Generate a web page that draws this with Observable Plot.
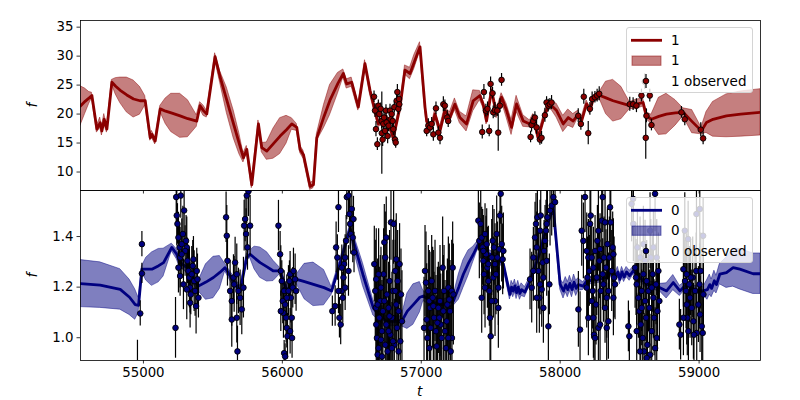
<!DOCTYPE html>
<html><head><meta charset="utf-8">
<script src="https://cdn.jsdelivr.net/npm/d3@7"></script>
<script src="https://cdn.jsdelivr.net/npm/@observablehq/plot@0.6"></script>
<style>
body{margin:0;background:#fff;font-family:"DejaVu Sans",sans-serif;}
#wrap{position:relative;width:800px;height:400px;overflow:hidden;background:#fff;}
#top,#bot{position:absolute;left:0;}
#top{top:0;z-index:2;}
#bot{top:190px;z-index:1;}
.lbl{position:absolute;font-family:"DejaVu Sans";font-style:italic;font-size:13.5px;color:#000;line-height:14px;height:14px;}
.legend{position:absolute;left:626px;width:125px;height:64px;border:1px solid #d4d4d4;border-radius:3px;background:rgba(255,255,255,0.8);z-index:5;}
.legend span{position:absolute;left:44px;font-size:13.5px;line-height:16px;color:#000;white-space:nowrap;}
</style></head>
<body><div id="wrap">
<div id="top"></div><div id="bot"></div>
<div class="lbl" style="left:30px;top:98px;transform:rotate(-90deg);">f</div>
<div class="lbl" style="left:30px;top:268px;transform:rotate(-90deg);">f</div>
<div class="lbl" style="left:417px;top:384px;">t</div>
<div class="legend" style="top:27px">
 <svg width="125" height="64" style="position:absolute;left:0;top:0">
  <line x1="4" x2="35" y1="12.3" y2="12.3" stroke="#8b0000" stroke-width="2.8"/>
  <rect x="5" y="28" width="29" height="9.3" fill="#8b0000" fill-opacity="0.5" stroke="#8b0000" stroke-opacity="0.5"/>
  <line x1="19" x2="19" y1="46" y2="60" stroke="black" stroke-width="1.2"/>
  <circle cx="19" cy="53" r="2.8" fill="#8b0000" stroke="black" stroke-width="0.9"/>
 </svg>
 <span style="top:4px">1</span><span style="top:24px">1</span><span style="top:45px">1 observed</span>
</div>
<div class="legend" style="top:197px">
 <svg width="125" height="64" style="position:absolute;left:0;top:0">
  <line x1="4" x2="35" y1="12.3" y2="12.3" stroke="#000080" stroke-width="2.8"/>
  <rect x="5" y="28" width="29" height="9.3" fill="#000080" fill-opacity="0.5" stroke="#000080" stroke-opacity="0.5"/>
  <line x1="19" x2="19" y1="46" y2="60" stroke="black" stroke-width="1.2"/>
  <circle cx="19" cy="53" r="2.8" fill="#000080" stroke="black" stroke-width="0.9"/>
 </svg>
 <span style="top:4px">0</span><span style="top:24px">0</span><span style="top:45px">0 observed</span>
</div>
</div>
<script>
// ---------- axes ----------
const xDomain = [54547, 59442];
const xTicks = [55000, 56000, 57000, 58000, 59000];
const topYDomain = [6.81, 36.15];
const topYTicks = [10, 15, 20, 25, 30, 35];
const botYDomain = [0.91, 1.582];
const botYTicks = [1.0, 1.2, 1.4];

// ---------- series "1" (top): GP mean and band half-width ----------
const topT = [54547,54580,54610,54629,54665,54689,54701,54718,54737,54773,54800,54833,54880,54929,54975,55013,55049,55061,55085,55121,55160,55200,55264,55320,55384,55408,55432,55456,55516,55552,55600,55650,55690,55720,55744,55780,55828,55852,55888,55936,55984,56030,56068,56104,56128,56152,56200,56224,56248,56300,56343,56400,56439,56463,56499,56547,56595,56631,56691,56751,56799,56847,56883,56919,56950,56991,57027,57039,57063,57075,57099,57135,57170,57206,57242,57278,57326,57374,57422,57446,57470,57506,57542,57578,57614,57650,57686,57734,57782,57806,57842,57890,57926,57974,58022,58058,58094,58130,58154,58190,58214,58238,58286,58330,58381,58440,58501,58550,58597,58621,58657,58710,58765,58830,58885,58950,59017,59053,59100,59197,59300,59442];
const topMean = [21.4,22.2,22.8,23.2,17.4,18.5,17.1,19.1,17.4,25.5,24.8,24.1,23.3,22.6,22.3,22.3,15.9,16.5,15.35,20.9,20.5,20.2,19.7,19.2,18.8,21.45,20.6,20.0,29.9,26.4,22.4,18.2,14.9,12.45,13.9,7.8,18.3,14.2,13.6,14.9,16.2,17.3,18.3,17.7,13.9,13.0,7.5,7.8,15.9,19.6,22.4,25.3,27.0,25.2,25.5,21.2,28.7,24.1,18.3,19.4,15.9,21.2,27.6,27.0,29.0,31.6,21.2,18.8,17.7,17.7,20.0,17.1,20.6,19.4,21.7,19.4,18.3,22.3,23.2,21.7,18.8,24.1,20.0,22.9,20.6,17.7,21.75,18.8,18.3,19.4,15.9,20.0,21.75,20.6,18.3,19.4,18.8,20.0,18.8,21.75,20.6,22.6,23.2,22.8,22.3,21.9,21.45,21.7,22.0,19.7,19.1,19.6,20.0,20.2,20.3,18.7,17.1,18.55,19.1,19.7,20.0,20.3];
const topHalf = [3.4,2.2,1.0,0.5,0.6,0.9,0.8,0.9,0.6,0.4,1.4,2.2,3.0,3.2,2.4,0.8,0.5,0.6,0.6,0.5,2.2,3.3,3.8,3.2,1.0,0.6,0.9,0.6,0.6,1.0,2.2,2.4,1.8,0.8,0.6,0.6,0.6,0.8,1.5,2.6,3.1,2.4,1.0,0.6,0.6,0.7,0.6,0.6,0.6,2.0,2.6,1.8,0.7,0.8,0.8,0.6,0.6,0.7,0.6,0.6,0.6,0.6,0.8,1.0,1.2,0.8,0.6,0.5,0.5,0.6,0.7,0.7,0.6,0.9,1.0,1.0,1.3,1.8,0.8,0.6,0.6,0.6,0.7,0.7,1.2,1.3,1.4,1.0,0.6,0.6,0.6,0.6,0.6,1.2,1.4,1.4,1.2,0.6,0.6,0.6,0.6,0.6,0.7,2.8,3.6,2.8,0.6,0.8,0.7,0.6,0.8,3.2,3.5,2.2,0.7,2.0,0.6,1.8,3.0,3.7,3.9,4.0];

// ---------- series "1" observed ----------
const topObsT = [56660,56667,56674,56684,56691,56698,56708,56715,56716,56722,56727,56732,56739,56746,56751,56758,56765,56775,56780,56787,56794,56799,56806,56811,56816,56823,56828,56835,56840,56842,
57039,57051,57063,57075,57087,57106,57123,57135,57159,57170,57187,57194,
57439,57451,57465,57477,57489,57499,57513,57518,57530,57547,57554,57566,57578,
57787,57794,57806,57818,57830,57854,57866,57890,57902,57914,57926,57938,
58130,58149,58170,58202,58214,58230,58250,58266,58281,
58501,58525,58549,58585,58609,58616,58621,58645,58657,
58873,58897,59012,59029];
const topObsF = [23.0,20.6,17.4,14.8,21.45,20.0,20.9,18.8,16.7,15.6,18.3,19.4,17.1,20.6,18.55,16.2,18.0,20.6,19.1,20.0,18.8,17.4,21.2,15.6,15.1,22.3,23.8,20.9,22.6,21.7,
17.1,18.0,17.7,18.3,16.5,21.0,16.8,15.9,21.7,21.45,19.4,18.8,
16.9,23.8,20.6,20.9,17.1,25.2,23.6,20.3,20.7,20.6,16.8,21.45,25.9,
16.05,18.1,18.8,19.4,17.7,15.6,15.9,19.8,22.0,21.45,21.7,22.0,
19.7,18.3,23.0,16.7,20.9,22.6,22.9,23.2,23.5,
21.7,21.7,21.45,23.2,25.6,15.9,19.7,23.2,18.1,
20.3,19.1,17.3,15.8];
const topObsE = [1.0,1.2,1.3,1.1,1.0,1.2,1.0,1.3,7.1,1.2,1.0,1.1,1.4,1.0,1.2,1.3,1.0,1.1,1.2,1.0,1.3,1.1,1.0,1.2,1.0,1.1,1.3,1.0,1.2,1.0,
1.0,1.2,1.0,1.1,1.2,1.1,1.0,1.2,1.3,1.0,1.2,1.1,
1.2,1.3,1.1,1.2,1.0,1.2,1.0,1.1,1.3,1.0,3.2,1.2,1.1,
1.0,1.2,1.1,1.0,1.2,1.0,1.1,1.2,1.0,1.1,1.0,1.2,
1.2,1.1,1.3,2.0,1.1,1.2,1.0,1.1,1.2,
1.2,1.1,1.2,1.1,1.3,3.7,1.2,1.1,1.0,
1.0,1.1,1.2,1.1];

// ---------- series "0" (bottom): GP mean and band half-width ----------
const botT = [54547,54689,54833,54900,54941,54965,54989,55020,55061,55110,55145,55204,55240,55260,55312,55360,55396,55450,55504,55550,55588,55640,55696,55744,55768,55800,55840,55890,55936,55984,56032,56080,56104,56160,56224,56300,56355,56392,56440,56487,56511,56580,56655,56700,56751,56859,56900,56943,56990,57015,57087,57150,57231,57270,57303,57340,57375,57411,57447,57543,57591,57638,57650,57662,57674,57686,57698,57710,57722,57746,57782,57850,57902,57950,58000,58024,58040,58055,58070,58085,58100,58115,58130,58166,58190,58260,58334,58382,58400,58415,58430,58445,58460,58478,58500,58526,58622,58718,58766,58814,58862,58909,58957,59029,59060,59077,59090,59110,59125,59149,59197,59245,59293,59389,59442];
const botMean = [1.214,1.208,1.191,1.160,1.131,1.128,1.271,1.271,1.271,1.285,1.297,1.357,1.330,1.300,1.277,1.230,1.204,1.220,1.238,1.258,1.277,1.230,1.185,1.317,1.330,1.315,1.297,1.280,1.264,1.264,1.185,1.225,1.231,1.222,1.211,1.198,1.185,1.251,1.340,1.430,1.383,1.250,1.118,1.085,1.065,1.065,1.105,1.131,1.160,1.165,1.140,1.130,1.145,1.200,1.251,1.295,1.330,1.370,1.343,1.317,1.291,1.171,1.200,1.185,1.205,1.178,1.200,1.175,1.190,1.180,1.224,1.330,1.436,1.516,1.211,1.185,1.210,1.190,1.215,1.190,1.220,1.195,1.210,1.204,1.224,1.230,1.238,1.264,1.240,1.260,1.231,1.260,1.240,1.260,1.245,1.264,1.211,1.198,1.185,1.218,1.185,1.211,1.191,1.185,1.190,1.210,1.195,1.225,1.210,1.251,1.257,1.277,1.271,1.253,1.253];
const botHalf = [0.093,0.090,0.080,0.070,0.060,0.030,0.010,0.045,0.066,0.066,0.055,0.015,0.020,0.020,0.020,0.020,0.020,0.070,0.082,0.065,0.015,0.020,0.020,0.015,0.015,0.045,0.060,0.058,0.040,0.012,0.020,0.020,0.020,0.070,0.086,0.070,0.015,0.015,0.015,0.015,0.030,0.045,0.030,0.020,0.020,0.020,0.070,0.080,0.060,0.020,0.020,0.020,0.020,0.050,0.055,0.050,0.030,0.015,0.015,0.015,0.015,0.020,0.025,0.025,0.025,0.025,0.025,0.025,0.025,0.020,0.015,0.015,0.015,0.015,0.020,0.030,0.030,0.030,0.030,0.030,0.030,0.030,0.025,0.015,0.015,0.015,0.015,0.015,0.020,0.020,0.020,0.020,0.020,0.020,0.020,0.015,0.015,0.015,0.030,0.030,0.020,0.015,0.015,0.015,0.040,0.040,0.035,0.040,0.035,0.040,0.060,0.075,0.080,0.080,0.080];

// ---------- series "0" observed ----------
const botObsT = [54989,54989,54977,54957,
55236,55240,55245,55252,55260,55264,55252,55264,55276,55284,55231,55269,55288,55293,55307,55312,55317,55324,55331,55336,55341,55348,55355,55360,55365,55372,55379,55384,55389,55396,55336,55312,55300,55276,
55595,55600,55605,55624,55636,55648,55653,55660,55672,55677,55684,55696,55708,55720,55725,55732,55744,55756,55768,55739,55749,55672,55636,
55972,55984,55989,55996,56003,56008,56013,56020,56027,56032,56037,56044,56051,56056,56061,56068,56075,56080,56092,56099,56013,56020,56032,55989,56056,56070,
56360,56380,56387,56396,56404,56411,56420,56428,56440,56444,56452,56459,56464,56476,56483,56488,56492,56500,56507,56512,56516,56404,56435,56452,56476,56428,
56662,56669,56674,56676,56681,56686,56693,56698,56705,56710,56717,56724,56729,56734,56741,56748,56753,56758,56765,56772,56777,56782,56789,56796,56801,56806,56813,56820,56825,56830,56837,56844,56849,56854,56861,56693,56717,56741,56765,56789,56813,56837,56748,56772,56820,56796,56734,56710,56686,56676,
57027,57034,57039,57044,57051,57058,57063,57068,57075,57082,57087,57092,57099,57106,57111,57123,57130,57135,57140,57147,57154,57159,57164,57171,57178,57183,57188,57195,57202,57207,57212,57219,57226,57231,57221,57020,57058,57116,57195,
57411,57418,57428,57435,57442,57447,57452,57459,57466,57471,57476,57483,57490,57495,57500,57507,57514,57519,57524,57531,57538,57543,57548,57555,57562,57567,57572,57579,57586,57591,57435,57459,57483,57507,57531,57555,57447,
57783,57795,57807,57819,57826,57831,57836,57843,57850,57855,57860,57867,57874,57879,57884,57891,57898,57903,57908,57915,57922,57927,57939,57951,57963,57831,57855,57879,57807,57903,
58131,58143,58155,58167,58179,58191,58196,58203,58210,58215,58220,58227,58234,58239,58244,58251,58258,58263,58268,58275,58282,58287,58292,58299,58306,58311,58316,58323,58330,58335,58340,58347,58354,58359,58364,58371,58378,58383,58388,58395,58203,58239,58275,58306,58335,58251,58287,58323,58347,58191,58227,58383,
58491,58498,58527,58539,58546,58551,58556,58563,58570,58575,58580,58587,58594,58599,58604,58611,58618,58623,58628,58635,58642,58647,58652,58659,58666,58671,58676,58683,58690,58695,58700,58707,58714,58551,58575,58599,58623,58671,58683,58647,58611,58587,58659,58695,58525,58514,
58858,58867,58887,58899,58906,58911,58915,58923,58930,58935,58947,58954,58959,58971,58979,58983,58995,59003,59007,59019,59026,59031,58939,58963,59012,58911,58887,58981,59005,58897,58921,59029];
const botObsF = [1.370,1.254,1.096,0.860,
1.556,1.483,1.450,1.396,1.357,1.317,1.277,1.244,1.370,1.410,1.039,1.562,1.211,1.503,1.383,1.357,1.304,1.264,1.238,1.198,1.171,1.251,1.284,1.310,1.224,1.185,1.125,1.264,1.231,1.158,1.138,1.191,1.343,1.330,
1.476,1.403,1.304,1.185,1.145,1.238,1.211,1.297,1.251,0.946,1.185,1.158,1.112,1.198,1.443,1.469,1.562,1.579,1.443,1.410,1.357,1.079,1.072,
1.443,1.330,1.264,1.224,1.145,1.098,1.185,1.131,1.079,1.039,1.006,1.185,1.224,1.251,1.158,1.079,1.198,1.264,1.231,1.185,0.939,0.926,1.158,1.105,1.026,0.999,
1.105,1.125,1.357,1.317,1.516,1.079,1.052,1.185,1.238,1.291,1.317,1.383,1.556,1.562,1.489,1.450,1.410,1.509,1.396,1.469,1.337,1.185,1.158,1.198,1.264,1.277,
1.291,1.185,1.118,1.052,0.999,0.933,0.959,1.079,1.145,1.198,1.026,1.105,1.251,1.377,0.972,1.052,1.171,0.946,1.118,1.224,1.012,1.456,1.079,1.185,1.450,0.972,1.264,1.131,1.039,1.224,1.105,1.291,0.986,1.171,1.065,1.251,0.926,1.317,1.026,0.959,1.185,0.946,1.396,1.085,1.310,0.986,1.145,0.992,1.131,1.231,
1.264,1.218,1.072,0.999,1.185,1.145,1.118,1.039,1.224,1.158,1.125,1.079,1.185,1.026,0.966,1.118,1.079,1.145,1.052,0.999,1.277,1.105,1.185,1.026,0.959,1.065,1.131,1.198,1.151,1.105,0.946,1.185,1.277,1.171,0.999,1.039,0.959,1.059,0.999,
1.463,1.383,1.450,1.396,1.357,1.304,1.251,1.410,1.330,1.370,1.277,1.224,1.185,1.079,1.006,1.317,1.383,1.238,1.357,1.145,1.251,1.410,1.317,1.118,1.350,1.483,1.569,1.370,1.310,1.343,1.158,1.198,1.291,1.145,1.291,1.198,1.343,
1.231,1.198,1.317,1.396,1.450,1.357,1.476,1.264,1.158,1.423,1.483,1.191,1.297,1.238,1.343,1.383,1.423,1.450,1.476,1.045,1.211,1.503,1.522,1.556,1.536,1.158,1.211,1.118,1.264,1.304,
1.112,1.032,1.423,1.383,1.556,1.343,1.238,1.317,1.264,1.450,1.483,1.317,1.185,1.277,1.012,1.343,1.131,1.238,1.383,1.423,1.304,1.350,1.185,1.463,1.251,1.211,1.317,1.118,1.277,1.158,1.370,1.185,1.317,1.516,1.456,1.264,1.357,1.158,1.238,1.211,1.079,1.079,1.039,1.556,1.039,0.999,1.052,1.456,1.065,1.198,1.145,1.330,
1.045,1.006,1.450,1.277,1.238,1.211,1.357,1.158,1.105,1.317,1.052,1.185,0.999,1.251,0.946,1.145,1.079,1.224,0.972,1.185,1.118,0.933,1.317,1.026,1.251,1.158,1.079,1.569,1.211,0.999,1.105,1.264,1.145,1.026,0.946,1.370,0.920,1.357,0.959,1.423,1.304,1.118,1.198,1.317,1.549,1.529,
1.052,1.012,1.271,1.224,1.185,1.131,1.079,1.026,1.211,1.158,1.118,1.238,1.065,1.185,1.264,1.019,1.131,1.211,1.092,1.045,1.019,1.171,1.238,1.012,1.264,1.251,1.079,1.489,1.509,1.423,1.390,1.403];
const botObsE = [0.05,0.04,0.05,0.13,
0.10,0.12,0.08,0.10,0.09,0.12,0.10,0.08,0.10,0.11,0.12,0.09,0.10,0.12,0.10,0.12,0.09,0.10,0.12,0.10,0.08,0.11,0.10,0.09,0.12,0.10,0.11,0.09,0.10,0.08,0.10,0.12,0.10,0.09,
0.10,0.12,0.10,0.12,0.10,0.09,0.11,0.10,0.12,0.10,0.09,0.11,0.10,0.12,0.10,0.09,0.11,0.10,0.12,0.10,0.09,0.10,0.11,
0.10,0.09,0.10,0.08,0.09,0.10,0.08,0.09,0.10,0.08,0.09,0.10,0.08,0.09,0.10,0.09,0.08,0.09,0.10,0.08,0.05,0.05,0.09,0.08,0.09,0.08,
0.06,0.08,0.10,0.09,0.10,0.08,0.08,0.10,0.09,0.10,0.09,0.10,0.09,0.08,0.09,0.10,0.08,0.09,0.10,0.09,0.08,0.09,0.10,0.09,0.10,0.09,
0.15,0.20,0.18,0.22,0.20,0.18,0.22,0.20,0.18,0.16,0.20,0.22,0.18,0.15,0.20,0.18,0.22,0.20,0.18,0.20,0.22,0.15,0.18,0.20,0.16,0.18,0.20,0.18,0.22,0.20,0.18,0.16,0.20,0.18,0.20,0.18,0.20,0.18,0.20,0.18,0.20,0.18,0.16,0.20,0.18,0.20,0.18,0.20,0.18,0.20,
0.18,0.20,0.22,0.20,0.18,0.20,0.22,0.20,0.18,0.20,0.22,0.18,0.20,0.22,0.20,0.18,0.20,0.22,0.20,0.18,0.20,0.22,0.18,0.20,0.22,0.20,0.18,0.20,0.22,0.20,0.18,0.20,0.18,0.20,0.20,0.20,0.20,0.22,0.20,
0.12,0.15,0.14,0.12,0.15,0.14,0.16,0.12,0.15,0.14,0.16,0.15,0.14,0.18,0.20,0.15,0.14,0.16,0.15,0.14,0.16,0.15,0.14,0.16,0.15,0.14,0.12,0.15,0.14,0.15,0.14,0.16,0.15,0.14,0.16,0.15,0.14,
0.12,0.14,0.12,0.14,0.12,0.14,0.12,0.15,0.14,0.12,0.14,0.15,0.12,0.14,0.12,0.14,0.12,0.14,0.12,0.14,0.12,0.14,0.12,0.12,0.10,0.14,0.12,0.14,0.12,0.14,
0.15,0.15,0.14,0.15,0.14,0.15,0.16,0.15,0.14,0.15,0.16,0.14,0.15,0.16,0.15,0.14,0.16,0.15,0.14,0.16,0.15,0.14,0.15,0.16,0.14,0.15,0.16,0.14,0.15,0.16,0.14,0.15,0.16,0.14,0.15,0.16,0.14,0.15,0.16,0.14,0.15,0.16,0.15,0.14,0.15,0.16,0.15,0.14,0.15,0.16,0.15,0.14,
0.10,0.10,0.15,0.16,0.15,0.16,0.15,0.16,0.15,0.16,0.15,0.16,0.15,0.16,0.15,0.16,0.15,0.16,0.15,0.16,0.15,0.16,0.15,0.16,0.15,0.16,0.15,0.15,0.16,0.15,0.16,0.15,0.16,0.15,0.16,0.15,0.16,0.15,0.16,0.15,0.16,0.15,0.16,0.15,0.15,0.15,
0.10,0.10,0.15,0.16,0.15,0.16,0.15,0.16,0.15,0.16,0.15,0.16,0.15,0.16,0.15,0.16,0.15,0.16,0.15,0.16,0.15,0.16,0.15,0.16,0.15,0.16,0.15,0.15,0.15,0.15,0.15,0.15];

// ---------- build tables ----------
const topCurve = topT.map((t, i) => ({t, m: topMean[i], lo: topMean[i] - topHalf[i], hi: topMean[i] + topHalf[i]}));
const topObs = topObsT.map((t, i) => ({t, f: topObsF[i], e: topObsE[i]}));
const botCurve = botT.map((t, i) => ({t, m: botMean[i], lo: botMean[i] - botHalf[i], hi: botMean[i] + botHalf[i]}));
const n = Math.min(botObsT.length, botObsF.length, botObsE.length);
const botObs = botObsT.slice(0, n).map((t, i) => ({t, f: botObsF[i], e: botObsE[i]}));

const common = {
  width: 800, marginLeft: 80, marginRight: 40,
  style: {fontFamily: "DejaVu Sans", fontSize: "13.3px", overflow: "visible", background: "transparent", color: "black"}
};

function panel(curve, obs, color, yDomain, yTicks, opts) {
  return Plot.plot({
    ...common, ...opts,
    x: {domain: xDomain},
    y: {domain: yDomain},
    marks: [
      Plot.areaY(curve, {x: "t", y1: "lo", y2: "hi", fill: color, fillOpacity: 0.5, stroke: color, strokeOpacity: 0.45, strokeWidth: 1, clip: true}),
      Plot.line(curve, {x: "t", y: "m", stroke: color, strokeWidth: 2.8, clip: true}),
      Plot.ruleX(obs, {x: "t", y1: d => d.f - d.e, y2: d => d.f + d.e, stroke: "black", strokeWidth: 1.2, clip: true}),
      Plot.dot(obs, {x: "t", y: "f", r: 2.8, fill: color, stroke: "black", strokeWidth: 0.9, clip: true}),
      Plot.frame({stroke: "black", strokeWidth: 0.8}),
      Plot.axisY({ticks: yTicks, tickSize: 3.5, tickPadding: 3.5, strokeWidth: 0.8, label: null, tickFormat: opts.yfmt}),
      Plot.axisX({ticks: xTicks, tickSize: 3.5, tickPadding: 3.5, strokeWidth: 0.8, label: null, tickFormat: opts.xfmt})
    ]
  });
}

const topSvg = panel(topCurve, topObs, "#8b0000", topYDomain, topYTicks,
  {height: 190, marginTop: 20, marginBottom: 0, xfmt: () => "", yfmt: d3.format("d")});
const botSvg = panel(botCurve, botObs, "#000080", botYDomain, botYTicks,
  {height: 210, marginTop: 0, marginBottom: 40, xfmt: d3.format("d"), yfmt: d3.format(".1f")});
document.getElementById("top").appendChild(topSvg);
document.getElementById("bot").appendChild(botSvg);
</script>
</body></html>
